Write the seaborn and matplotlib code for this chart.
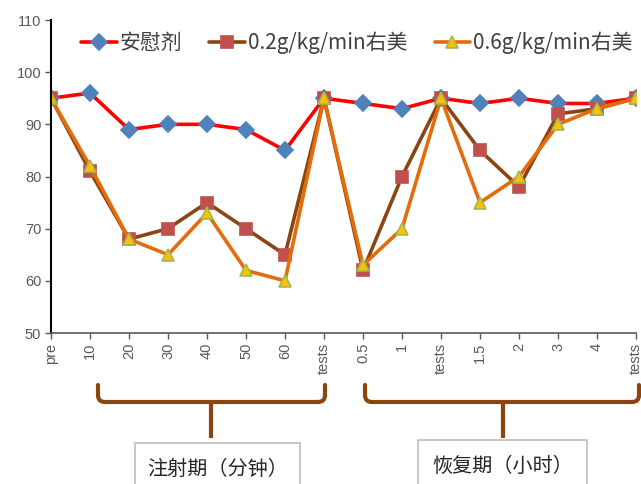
import numpy as np
import pandas as pd
import matplotlib
matplotlib.use("Agg")
import matplotlib.pyplot as plt
from matplotlib.patches import Rectangle, PathPatch
from matplotlib.path import Path
import seaborn as sns

# time points along the x axis
time_labels = ["pre", "10", "20", "30", "40", "50", "60", "tests",
               "0.5", "1", "tests", "1.5", "2", "3", "4", "tests"]

series_names = ["安慰剂", "0.2g/kg/min右美", "0.6g/kg/min右美"]
placebo = [95, 96, 89, 90, 90, 89, 85, 95, 94, 93, 95, 94, 95, 94, 94, 95]
dose_02 = [95, 81, 68, 70, 75, 70, 65, 95, 62, 80, 95, 85, 78, 92, 93, 95]
dose_06 = [95, 82, 68, 65, 73, 62, 60, 95, 63, 70, 95, 75, 80, 90, 93, 95]

phase_labels = ["注射期（分钟）", "恢复期（小时）"]

sns.set_theme(style="white")
plt.rcParams["font.family"] = ["Noto Sans CJK SC", "DejaVu Sans"]

pos = np.arange(len(time_labels))
df = pd.DataFrame({
    "pos": np.tile(pos, 3),
    "value": placebo + dose_02 + dose_06,
    "group": np.repeat(series_names, len(pos)),
})

W, H = 641, 484
fig = plt.figure(figsize=(W / 100, H / 100), dpi=100)
ax = fig.add_axes([51 / W, 1 - 333 / H, 585 / W, 313 / H])

styles = {
    series_names[0]: dict(color="#FF0000", marker="D", mfc="#4F81BD", mec="#4F81BD", ms=8),
    series_names[1]: dict(color="#8B4513", marker="s", mfc="#C0504D", mec="#C0504D", ms=9),
    series_names[2]: dict(color="#E46C0A", marker="^", mfc="#FFC000", mec="#9BBB59", ms=9),
}
for name in series_names:
    st = styles[name]
    sub = df[df["group"] == name]
    sns.lineplot(data=sub, x="pos", y="value", ax=ax, color=st["color"], lw=2.6,
                 marker=st["marker"], markersize=st["ms"], markerfacecolor=st["mfc"],
                 markeredgecolor=st["mec"], markeredgewidth=1.2, label=name, sort=False)

ax.set_xlim(0, len(time_labels) - 1)
ax.set_ylim(50, 110)
ax.set_yticks(range(50, 111, 10))
ax.set_xticks(pos)
ax.set_xticklabels(time_labels, rotation=90, family=["Liberation Sans", "DejaVu Sans"])
for lab in ax.get_yticklabels():
    lab.set_family(["Liberation Sans", "DejaVu Sans"])
ax.tick_params(axis="both", labelsize=10.5, colors="#595959", length=4, width=1,
               direction="out", bottom=True, left=True, pad=3)
ax.set_xlabel("")
ax.set_ylabel("")
for s in ["top", "right"]:
    ax.spines[s].set_visible(False)
ax.spines["left"].set_color("#000000")
ax.spines["left"].set_linewidth(1.5)
ax.spines["bottom"].set_color("#595959")
ax.spines["bottom"].set_linewidth(1.2)

leg = ax.legend(loc="upper center", bbox_to_anchor=(0.523, 1.003), ncol=3, frameon=False,
                fontsize=15, handlelength=1.7, handletextpad=0.15, columnspacing=1.3,
                borderaxespad=0.2)
for t in leg.get_texts():
    t.set_color("#404040")

# phase brackets below the axis (pixel coordinates converted to figure fractions)
def fx(x):
    return x / W

def fy(y):
    return 1 - y / H

def bracket(x0, x1, y_top, y_bar, r=7):
    verts = [(x0, y_top), (x0, y_bar - r), (x0, y_bar), (x0 + r, y_bar),
             (x1 - r, y_bar), (x1, y_bar), (x1, y_bar - r), (x1, y_top)]
    codes = [Path.MOVETO, Path.LINETO, Path.CURVE3, Path.CURVE3,
             Path.LINETO, Path.CURVE3, Path.CURVE3, Path.LINETO]
    return Path([(fx(x), fy(y)) for x, y in verts], codes)

brace_color = "#8B4513"
for (x0, x1, xm, label, bx0, bx1, by) in [
    (98, 325, 211, phase_labels[0], 135, 300, 443),
    (365, 639, 503, phase_labels[1], 418, 587, 440),
]:
    fig.add_artist(PathPatch(bracket(x0, x1, 385, 402), transform=fig.transFigure,
                             facecolor="none", edgecolor=brace_color, lw=3,
                             capstyle="round"))
    stem = Path([(fx(xm), fy(402)), (fx(xm), fy(438))])
    fig.add_artist(PathPatch(stem, transform=fig.transFigure, facecolor="none",
                             edgecolor=brace_color, lw=3, capstyle="butt"))
    fig.add_artist(Rectangle((fx(bx0), fy(490)), fx(bx1) - fx(bx0), fy(by) - fy(490),
                             transform=fig.transFigure, facecolor="white",
                             edgecolor="#BFBFBF", lw=1.2))
    fig.text(fx((bx0 + bx1) / 2), fy(by + 26), label, ha="center", va="center",
             fontsize=14.5, color="#262626")

fig.savefig("out.png", dpi=100)
